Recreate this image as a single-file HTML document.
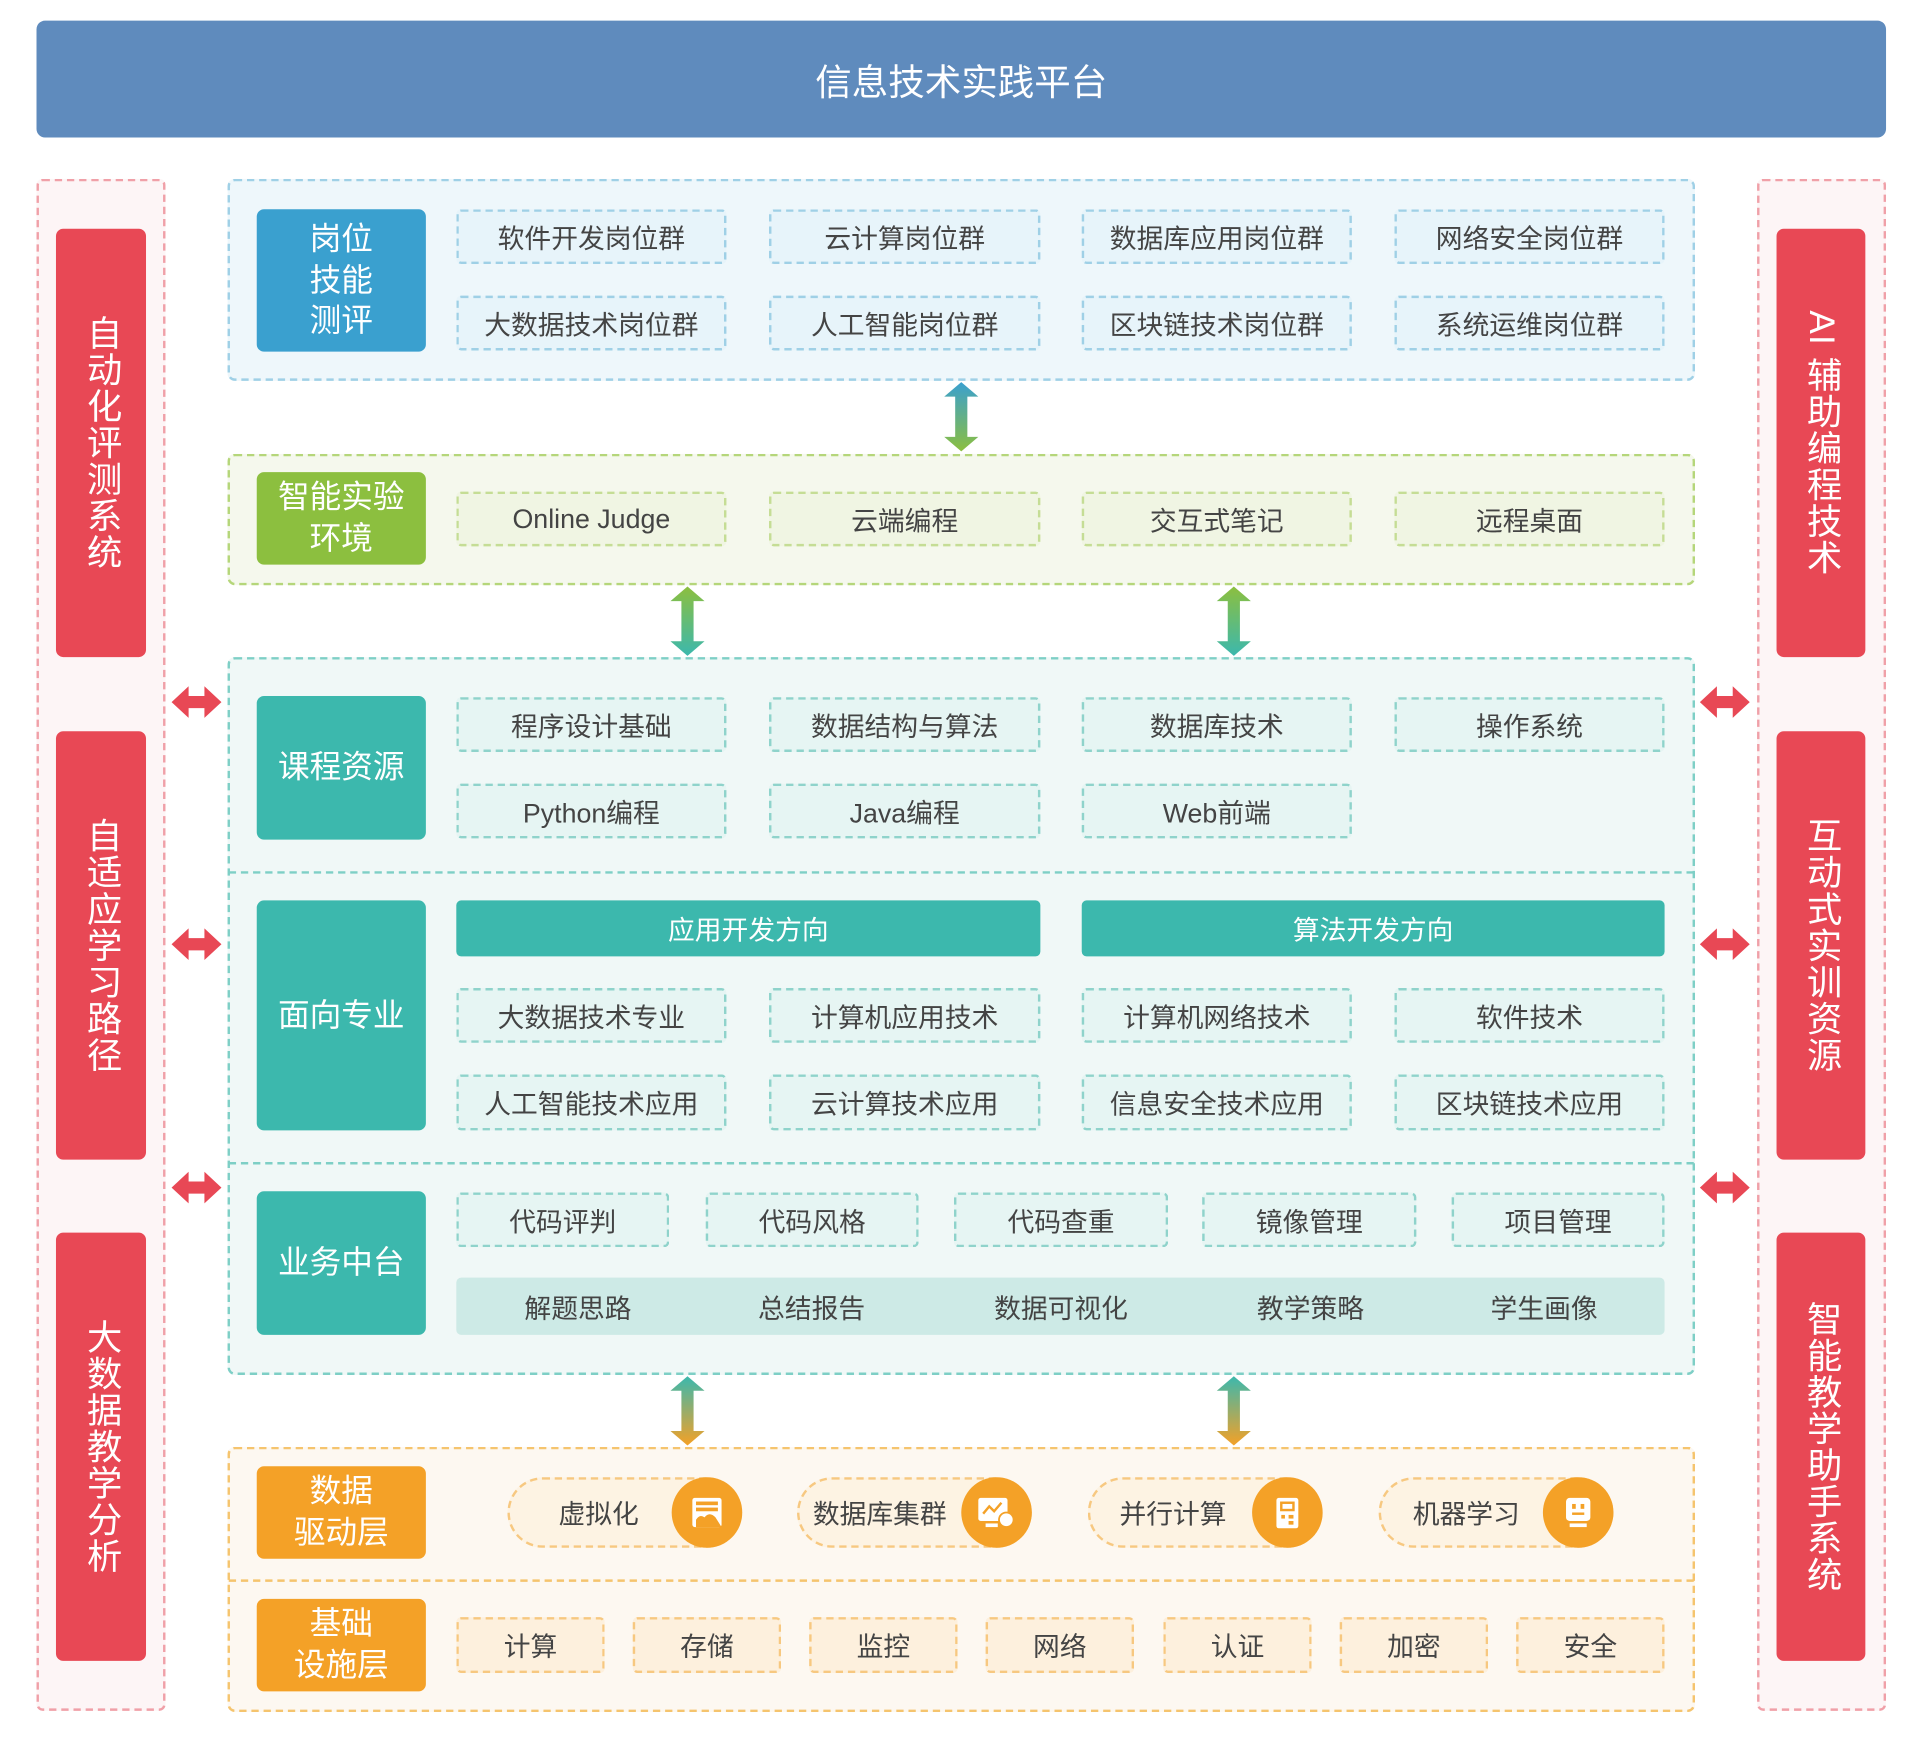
<!DOCTYPE html>
<html><head><meta charset="utf-8"><style>
*{margin:0;padding:0;box-sizing:border-box}
body{width:1908px;height:1759px;background:#fff;overflow:hidden;font-family:"Liberation Sans","Noto Sans CJK SC",sans-serif}
#s{position:absolute;left:0;top:0;width:1568px;height:1446px;transform:scale(1.2168);transform-origin:0 0}
.a{position:absolute;display:flex;align-items:center;justify-content:center;text-align:center}
.it{font-size:22px;color:#444;border-radius:4px}
.b{border:2px dashed #9fd0e6;background:#e7f4fa}
.g{border:2px dashed #c5dd95;background:#f0f5e3}
.t{border:2px dashed #8fd3cb;background:#e6f5f3}
.o{border:2px dashed #f7c880;background:#fdf0dd}
.lb{color:#fff;font-size:26px;border-radius:6px;line-height:1.3}
.side{background:#e84855;border-radius:6px;color:#fff;font-size:29px;writing-mode:vertical-rl;letter-spacing:1px}
.pill{position:absolute;height:58px;border:2px dashed #f7c880;background:#fdf3e3;border-radius:29px;font-size:22px;color:#444;display:flex;align-items:center;padding-left:40px}
.circ{position:absolute;right:-2px;top:-2px;width:58px;height:58px;border-radius:50%;background:#f4a127;display:flex;align-items:center;justify-content:center}
</style></head><body><div id="s">
<div class="a" style="left:30px;top:17px;width:1520px;height:96px;background:#5f8bbd;border-radius:7px;color:#fff;font-size:30px">信息技术实践平台</div>

<div style="position:absolute;left:30px;top:147px;width:106px;height:1259px;border:2px dashed #f0a0a8;background:#fdf5f6;border-radius:5px"></div>
<div style="position:absolute;left:1444px;top:147px;width:106px;height:1259px;border:2px dashed #f0a0a8;background:#fdf5f6;border-radius:5px"></div>
<div class="a side" style="left:46px;top:188px;width:74px;height:352px">自动化评测系统</div>
<div class="a side" style="left:46px;top:601px;width:74px;height:352px">自适应学习路径</div>
<div class="a side" style="left:46px;top:1013px;width:74px;height:352px">大数据教学分析</div>
<div class="a side" style="left:1460px;top:188px;width:73px;height:352px">AI 辅助编程技术</div>
<div class="a side" style="left:1460px;top:601px;width:73px;height:352px">互动式实训资源</div>
<div class="a side" style="left:1460px;top:1013px;width:73px;height:352px">智能教学助手系统</div>

<div style="position:absolute;left:187px;top:147px;width:1206px;height:166px;border:2px dashed #9fd0e6;background:#eef7fb;border-radius:6px"></div>
<div class="a lb" style="left:211px;top:172px;width:139px;height:117px;background:#3aa0cf">岗位<br>技能<br>测评</div>
<div class="a it b" style="left:375px;top:172px;width:222px;height:45px">软件开发岗位群</div>
<div class="a it b" style="left:632px;top:172px;width:223px;height:45px">云计算岗位群</div>
<div class="a it b" style="left:889px;top:172px;width:222px;height:45px">数据库应用岗位群</div>
<div class="a it b" style="left:1146px;top:172px;width:222px;height:45px">网络安全岗位群</div>
<div class="a it b" style="left:375px;top:243px;width:222px;height:45px">大数据技术岗位群</div>
<div class="a it b" style="left:632px;top:243px;width:223px;height:45px">人工智能岗位群</div>
<div class="a it b" style="left:889px;top:243px;width:222px;height:45px">区块链技术岗位群</div>
<div class="a it b" style="left:1146px;top:243px;width:222px;height:45px">系统运维岗位群</div>

<div style="position:absolute;left:187px;top:373px;width:1206px;height:108px;border:2px dashed #b5d67a;background:#f5f8ed;border-radius:6px"></div>
<div class="a lb" style="left:211px;top:388px;width:139px;height:76px;background:#8cbf3f">智能实验<br>环境</div>
<div class="a it g" style="left:375px;top:404px;width:222px;height:45px">Online Judge</div>
<div class="a it g" style="left:632px;top:404px;width:223px;height:45px">云端编程</div>
<div class="a it g" style="left:889px;top:404px;width:222px;height:45px">交互式笔记</div>
<div class="a it g" style="left:1146px;top:404px;width:222px;height:45px">远程桌面</div>

<div style="position:absolute;left:187px;top:540px;width:1206px;height:590px;border:2px dashed #7ecfc6;background:#f0f8f7;border-radius:6px"></div>
<div style="position:absolute;left:188px;top:716px;width:1204px;border-top:2px dashed #7ecfc6"></div>
<div style="position:absolute;left:188px;top:955px;width:1204px;border-top:2px dashed #7ecfc6"></div>
<div class="a lb" style="left:211px;top:572px;width:139px;height:118px;background:#3cb8ad">课程资源</div>
<div class="a it t" style="left:375px;top:573px;width:222px;height:45px">程序设计基础</div>
<div class="a it t" style="left:632px;top:573px;width:223px;height:45px">数据结构与算法</div>
<div class="a it t" style="left:889px;top:573px;width:222px;height:45px">数据库技术</div>
<div class="a it t" style="left:1146px;top:573px;width:222px;height:45px">操作系统</div>
<div class="a it t" style="left:375px;top:644px;width:222px;height:45px">Python编程</div>
<div class="a it t" style="left:632px;top:644px;width:223px;height:45px">Java编程</div>
<div class="a it t" style="left:889px;top:644px;width:222px;height:45px">Web前端</div>

<div class="a lb" style="left:211px;top:740px;width:139px;height:189px;background:#3cb8ad">面向专业</div>
<div class="a it" style="left:375px;top:740px;width:480px;height:46px;background:#3cb8ad;color:#fff">应用开发方向</div>
<div class="a it" style="left:889px;top:740px;width:479px;height:46px;background:#3cb8ad;color:#fff">算法开发方向</div>
<div class="a it t" style="left:375px;top:812px;width:222px;height:45px">大数据技术专业</div>
<div class="a it t" style="left:632px;top:812px;width:223px;height:45px">计算机应用技术</div>
<div class="a it t" style="left:889px;top:812px;width:222px;height:45px">计算机网络技术</div>
<div class="a it t" style="left:1146px;top:812px;width:222px;height:45px">软件技术</div>
<div class="a it t" style="left:375px;top:883px;width:222px;height:46px">人工智能技术应用</div>
<div class="a it t" style="left:632px;top:883px;width:223px;height:46px">云计算技术应用</div>
<div class="a it t" style="left:889px;top:883px;width:222px;height:46px">信息安全技术应用</div>
<div class="a it t" style="left:1146px;top:883px;width:222px;height:46px">区块链技术应用</div>

<div class="a lb" style="left:211px;top:979px;width:139px;height:118px;background:#3cb8ad">业务中台</div>
<div class="a it t" style="left:375px;top:980px;width:175px;height:45px">代码评判</div>
<div class="a it t" style="left:580px;top:980px;width:175px;height:45px">代码风格</div>
<div class="a it t" style="left:784px;top:980px;width:176px;height:45px">代码查重</div>
<div class="a it t" style="left:988px;top:980px;width:176px;height:45px">镜像管理</div>
<div class="a it t" style="left:1193px;top:980px;width:175px;height:45px">项目管理</div>
<div style="position:absolute;left:375px;top:1050px;width:993px;height:47px;background:#cdeae6;border-radius:4px"></div>
<div class="a it" style="left:395px;top:1050px;width:160px;height:47px">解题思路</div>
<div class="a it" style="left:587px;top:1050px;width:160px;height:47px">总结报告</div>
<div class="a it" style="left:792px;top:1050px;width:160px;height:47px">数据可视化</div>
<div class="a it" style="left:997px;top:1050px;width:160px;height:47px">教学策略</div>
<div class="a it" style="left:1189px;top:1050px;width:160px;height:47px">学生画像</div>

<div style="position:absolute;left:187px;top:1189px;width:1206px;height:218px;border:2px dashed #f5c46e;background:#fdf8f1;border-radius:6px"></div>
<div style="position:absolute;left:188px;top:1298px;width:1204px;border-top:2px dashed #f5c46e"></div>
<div class="a lb" style="left:211px;top:1205px;width:139px;height:76px;background:#f4a127">数据<br>驱动层</div>
<div class="pill" style="left:417px;top:1214px;width:193px">虚拟化<div class="circ"><svg width="30" height="30" viewBox="0 0 30 30"><rect x="3" y="3" width="24" height="24" rx="2" fill="#fff"/><rect x="6" y="6" width="18" height="3" fill="#f4a127"/><rect x="6" y="11" width="18" height="3" fill="#f4a127"/><path d="M6 27 L6 21 Q9 16 13 19 Q17 14 22 19 L27 27Z" fill="#f4a127"/></svg></div></div>
<div class="pill" style="left:655px;top:1214px;width:193px;padding-left:11px">数据库集群<div class="circ"><svg width="34" height="30" viewBox="0 0 34 30"><rect x="2" y="3" width="24" height="19" rx="2" fill="#fff"/><path d="M6 16 L11 10 L15 14 L21 7" stroke="#f4a127" stroke-width="2" fill="none"/><circle cx="25" cy="21" r="6" fill="#fff" stroke="#f4a127" stroke-width="1.5"/><rect x="8" y="24" width="10" height="3" fill="#fff"/></svg></div></div>
<div class="pill" style="left:894px;top:1214px;width:193px;padding-left:24px">并行计算<div class="circ"><svg width="30" height="30" viewBox="0 0 30 30"><rect x="6" y="3" width="18" height="25" rx="2" fill="#fff"/><rect x="10" y="7" width="10" height="6" fill="none" stroke="#f4a127" stroke-width="2"/><rect x="10" y="17" width="3" height="3" fill="#f4a127"/><rect x="16" y="17" width="4" height="3" fill="#f4a127"/><rect x="16" y="22" width="4" height="3" fill="#f4a127"/></svg></div></div>
<div class="pill" style="left:1133px;top:1214px;width:193px;padding-left:26px">机器学习<div class="circ"><svg width="30" height="30" viewBox="0 0 30 30"><rect x="5" y="3" width="20" height="19" rx="3" fill="#fff"/><rect x="10" y="8" width="3" height="4" fill="#f4a127"/><rect x="17" y="8" width="3" height="4" fill="#f4a127"/><rect x="10" y="15" width="10" height="2" fill="#f4a127"/><rect x="8" y="24" width="14" height="3" fill="#fff"/></svg></div></div>

<div class="a lb" style="left:211px;top:1314px;width:139px;height:76px;background:#f4a127">基础<br>设施层</div>
<div class="a it o" style="left:375px;top:1329px;width:122px;height:46px">计算</div>
<div class="a it o" style="left:520px;top:1329px;width:122px;height:46px">存储</div>
<div class="a it o" style="left:665px;top:1329px;width:122px;height:46px">监控</div>
<div class="a it o" style="left:810px;top:1329px;width:122px;height:46px">网络</div>
<div class="a it o" style="left:956px;top:1329px;width:122px;height:46px">认证</div>
<div class="a it o" style="left:1101px;top:1329px;width:122px;height:46px">加密</div>
<div class="a it o" style="left:1246px;top:1329px;width:122px;height:46px">安全</div>

<svg style="position:absolute;left:0;top:0" width="1568" height="1446">
<defs>
<linearGradient id="g1" x1="0" y1="0" x2="0" y2="1"><stop offset="0" stop-color="#3aa0cf"/><stop offset="1" stop-color="#8cbf3f"/></linearGradient>
<linearGradient id="g2" x1="0" y1="0" x2="0" y2="1"><stop offset="0" stop-color="#8cbf3f"/><stop offset="1" stop-color="#3cb8ad"/></linearGradient>
<linearGradient id="g3" x1="0" y1="0" x2="0" y2="1"><stop offset="0" stop-color="#3cb8ad"/><stop offset="1" stop-color="#f4a127"/></linearGradient>
<g id="ha"><path d="M0 0 L14 -13 L14 -5 L27 -5 L27 -13 L41 0 L27 13 L27 5 L14 5 L14 13Z" fill="#e84855"/></g>
</defs>
<path fill="url(#g1)" transform="translate(790 314)" d="M0 0 L14 12 L5 12 L5 45 L14 45 L0 57 L-14 45 L-5 45 L-5 12 L-14 12Z"/>
<g fill="url(#g2)"><path transform="translate(565 482)" d="M0 0 L14 12 L5 12 L5 45 L14 45 L0 57 L-14 45 L-5 45 L-5 12 L-14 12Z"/><path transform="translate(1014 482)" d="M0 0 L14 12 L5 12 L5 45 L14 45 L0 57 L-14 45 L-5 45 L-5 12 L-14 12Z"/></g>
<g fill="url(#g3)"><path transform="translate(565 1131)" d="M0 0 L14 12 L5 12 L5 45 L14 45 L0 57 L-14 45 L-5 45 L-5 12 L-14 12Z"/><path transform="translate(1014 1131)" d="M0 0 L14 12 L5 12 L5 45 L14 45 L0 57 L-14 45 L-5 45 L-5 12 L-14 12Z"/></g>
<use href="#ha" x="141" y="577"/><use href="#ha" x="141" y="776"/><use href="#ha" x="141" y="976"/>
<use href="#ha" x="1397" y="577"/><use href="#ha" x="1397" y="776"/><use href="#ha" x="1397" y="976"/>
</svg>
</div></body></html>
